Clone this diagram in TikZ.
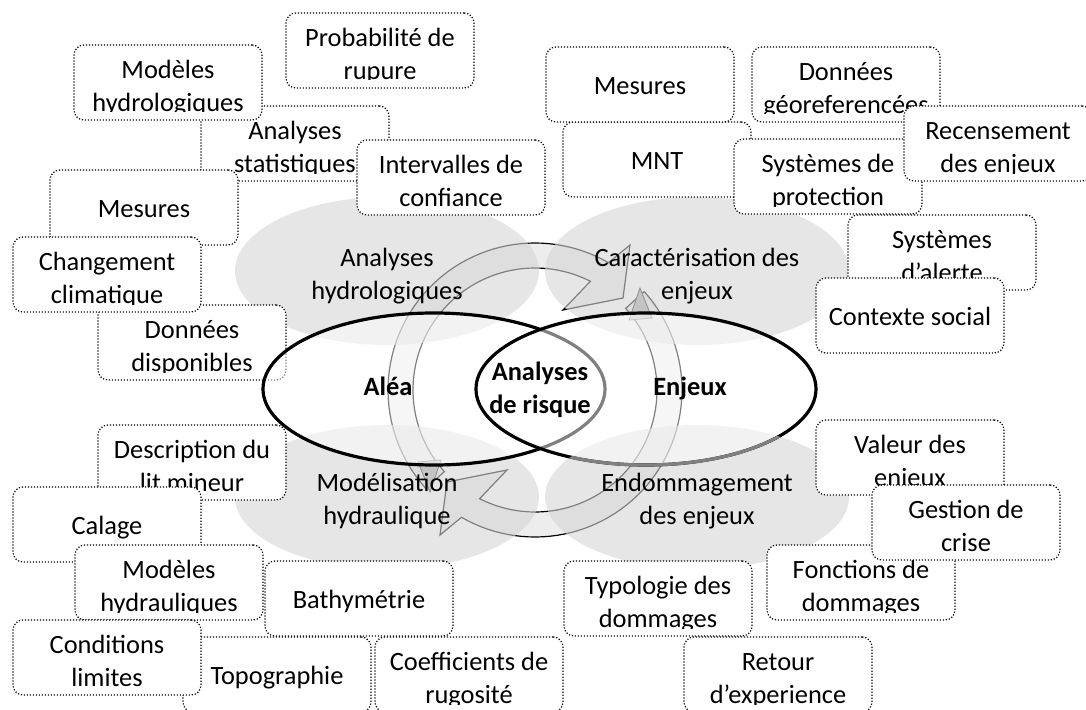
\documentclass[tikz,border=0pt]{standalone}
\usepackage{fontspec}
\setmainfont{Carlito}
\definecolor{ellgrey}{gray}{0.835}
\definecolor{ringfill}{gray}{0.8}
\definecolor{darktri}{gray}{0.77}
\newcommand\flstrut{\rule{0pt}{18pt}}
\tikzset{
  box/.style={draw=black, line width=0.9pt, dash pattern=on 0.9pt off 1.35pt,
    rounded corners=7.5pt, fill=white, minimum width=141pt, minimum height=56.25pt,
    inner sep=0pt, outer sep=0pt},
  txt/.style={font=\fontsize{19.8}{24.75}\selectfont, align=center, inner sep=0pt, text=black},
  txtb/.style={txt, font=\fontsize{19.8}{24.75}\selectfont\bfseries},
  ringarrow/.style={fill=ringfill, fill opacity=0.35, draw=black, draw opacity=1, line width=0.9pt, line join=miter},
  greyell/.style={fill=ellgrey, fill opacity=0.6, draw=none},
  bigell/.style={fill=white, fill opacity=0.5, draw=black, draw opacity=1, line width=2.4pt},
}
\newcommand\mybox[5]{%
  \node[box] (#1) at (#2,#3+37.5) {};
  \begin{scope}
    \clip (#1.north west) rectangle ([yshift=6pt]#1.south east);
    \node[txt,anchor=north] (#1-t) at ([yshift=-#4]#1.north) {\flstrut#5};
  \end{scope}}
\begin{document}
\begin{tikzpicture}[x=0.75pt,y=-0.75pt]
\useasboundingbox (0,0) rectangle (1086,710);
\clip (0,0) rectangle (1086,710);

% circular arrows
\path[ringarrow] plot[domain=138:300, samples=60] ({535+147*cos(\x)},{390+147*sin(\x)})
  -- (630,245) -- (623,298) -- (563,310)
  -- plot[domain=297:138, samples=60] ({535+122*cos(\x)},{390+122*sin(\x)}) -- cycle;
\path[ringarrow] plot[domain=318:480, samples=60] ({535+147*cos(\x)},{390+147*sin(\x)})
  -- (440,535) -- (447,482) -- (507,470)
  -- plot[domain=477:318, samples=60] ({535+122*cos(\x)},{390+122*sin(\x)}) -- cycle;

% grey ellipses
\path[greyell] (387,271) ellipse [x radius=114pt, y radius=55.5pt];
\path[greyell] (697,271) ellipse [x radius=114pt, y radius=55.5pt];
\path[greyell] (387,497) ellipse [x radius=114pt, y radius=54pt];
\path[greyell] (697,497) ellipse [x radius=114pt, y radius=54pt];

% overlap triangles of the arrows
\path[fill=darktri, draw=black!45, line width=0.6pt] (640,288) -- (629,320) -- (652,318) -- cycle;
\path[fill=darktri, draw=black!45, line width=0.6pt] (430,492) -- (441,460) -- (418,462) -- cycle;

% boxes, top left
\mybox{ddisp}{192}{305}{7.125pt}{Données\\disponibles}
\mybox{astat}{295}{106}{7.125pt}{Analyses\\statistiques}
\mybox{mesA}{144}{170}{17.625pt}{Mesures}
\mybox{chg}{107}{237}{7.125pt}{Changement\\climatique}
\mybox{mhydro}{168}{45}{7.125pt}{Modèles\\hydrologiques}
\mybox{interv}{451}{140}{7.125pt}{Intervalles de\\confiance}
\mybox{proba}{380}{13}{7.125pt}{Probabilité de\\rupure}
% top right
\mybox{mnt}{657}{122}{17.625pt}{MNT}
\mybox{mesB}{640}{47}{17.625pt}{Mesures}
\mybox{dgeo}{846}{47}{7.125pt}{Données\\géoreferencées}
\mybox{sprot}{828}{139}{7.125pt}{Systèmes de\\protection}
\mybox{recens}{998}{106}{7.125pt}{Recensement\\des enjeux}
\mybox{salert}{942}{215}{7.125pt}{Systèmes\\d’alerte}
\mybox{ctx}{910}{278}{17.625pt}{Contexte social}
% bottom left
\mybox{desc}{192}{425}{7.125pt}{Description du\\lit mineur}
\mybox{calage}{107}{487}{17.625pt}{Calage}
\mybox{mhydrau}{169}{545}{7.125pt}{Modèles\\hydrauliques}
\mybox{bathy}{359}{561}{17.625pt}{Bathymétrie}
\mybox{topo}{277}{637}{17.625pt}{Topographie}
\mybox{coef}{469}{637}{7.125pt}{Coefficients de\\rugosité}
\mybox{cond}{107}{620}{7.125pt}{Conditions\\limites}
% bottom right
\mybox{valeur}{910}{420}{7.125pt}{Valeur des\\enjeux}
\mybox{fonct}{861}{545}{7.125pt}{Fonctions de\\dommages}
\mybox{gestion}{966}{485}{7.125pt}{Gestion de\\crise}
\mybox{typo}{658}{561}{7.125pt}{Typologie des\\dommages}
\mybox{retour}{778}{637}{7.125pt}{Retour\\d’experience}

% main ellipses
\path[bigell] (434,389) ellipse [x radius=128.25pt, y radius=57pt];
\path[bigell] (646,389) ellipse [x radius=127.5pt, y radius=57pt];
\begin{scope}
  \clip (697,497) ellipse [x radius=114pt, y radius=54pt];
  \draw[line width=2.4pt, black!50] (646,389) ellipse [x radius=127.5pt, y radius=57pt];
\end{scope}

% texts of the ellipses
\node[txt,anchor=north] (hydro) at (387,242) {\flstrut Analyses\\hydrologiques};
\node[txt,anchor=north] (caract) at (697,242) {\flstrut Caractérisation des\\enjeux};
\node[txt,anchor=north] (model) at (387,467) {\flstrut Modélisation\\hydraulique};
\node[txt,anchor=north] (endom) at (697,467) {\flstrut Endommagement\\des enjeux};
\node[txtb,anchor=base] (alea) at (388,395) {Aléa};
\node[txtb,anchor=base] (enjeux) at (690,395) {Enjeux};
\node[txtb,anchor=north] (risque) at (540,356) {\flstrut Analyses\\de risque};
\end{tikzpicture}
\end{document}
